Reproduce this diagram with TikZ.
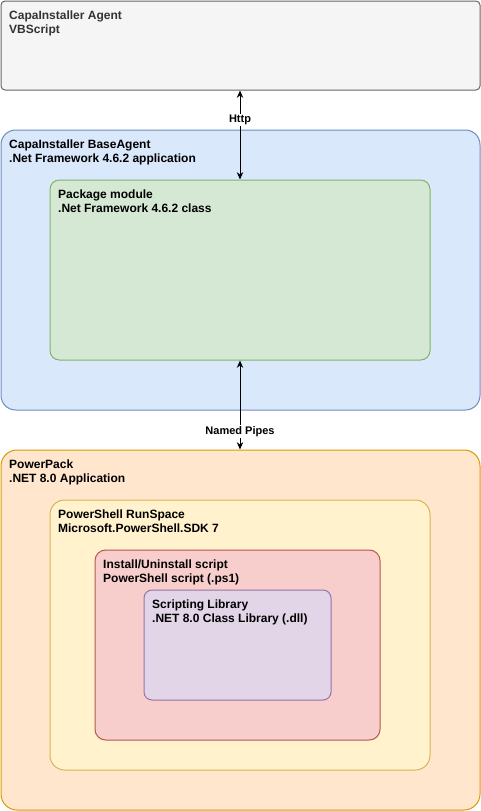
\documentclass[tikz,border=0pt]{standalone}
\usepackage{fontspec}
\setmainfont{Liberation Sans}
\usepackage{xcolor}
\usetikzlibrary{positioning, fit, arrows.meta}

\definecolor{agentfill}{HTML}{F5F5F5}
\definecolor{agentline}{HTML}{666666}
\definecolor{agenttext}{HTML}{333333}
\definecolor{basefill}{HTML}{DAE8FC}
\definecolor{baseline}{HTML}{6C8EBF}
\definecolor{pkgfill}{HTML}{D5E8D4}
\definecolor{pkgline}{HTML}{82B366}
\definecolor{packfill}{HTML}{FFE6CC}
\definecolor{packline}{HTML}{D79B00}
\definecolor{runfill}{HTML}{FFF2CC}
\definecolor{runline}{HTML}{D6B656}
\definecolor{scriptfill}{HTML}{F8CECC}
\definecolor{scriptline}{HTML}{B85450}
\definecolor{libfill}{HTML}{E1D5E7}
\definecolor{libline}{HTML}{9673A6}

\begin{document}
\begin{tikzpicture}[x=0.75pt, y=-0.75pt,
    box/.style={draw, line width=0.75pt, inner sep=0pt},
    title/.style={anchor=north west, align=left, inner xsep=6.3pt, inner ysep=7.3pt,
        font=\bfseries\fontsize{9}{10.4}\selectfont},
    link/.style={{Stealth[length=5.5pt, width=4.8pt]}-{Stealth[length=5.5pt, width=4.8pt]}, line width=0.75pt},
    linklabel/.style={fill=white, inner sep=1pt, font=\bfseries\fontsize{8.25}{10}\selectfont}]
    \useasboundingbox (0,0) rectangle (481,811);

    % boxes
    \node[box, draw=agentline, fill=agentfill, rounded corners=3pt, fit={(1,1) (480,90)}] (agent) {};
    \node[box, draw=baseline, fill=basefill, rounded corners=11pt, fit={(1,130) (480,410)}] (base) {};
    \node[box, draw=pkgline, fill=pkgfill, rounded corners=7pt, fit={(50,180) (430,360)}] (pkg) {};
    \node[box, draw=packline, fill=packfill, rounded corners=12pt, fit={(1,450) (480,810)}] (pack) {};
    \node[box, draw=runline, fill=runfill, rounded corners=11pt, fit={(50,500) (430,770)}] (run) {};
    \node[box, draw=scriptline, fill=scriptfill, rounded corners=8pt, fit={(95,550) (380,740)}] (script) {};
    \node[box, draw=libline, fill=libfill, rounded corners=6pt, fit={(144,590) (331,700)}] (lib) {};

    % titles
    \node[title, text=agenttext] (agenttitle) at (agent.north west) {CapaInstaller Agent\\VBScript};
    \node[title] (basetitle) at (base.north west) {CapaInstaller BaseAgent\\.Net Framework 4.6.2 application};
    \node[title] (pkgtitle) at (pkg.north west) {Package module\\.Net Framework 4.6.2 class};
    \node[title] (packtitle) at (pack.north west) {PowerPack\\.NET 8.0 Application};
    \node[title] (runtitle) at (run.north west) {PowerShell RunSpace\\Microsoft.PowerShell.SDK 7};
    \node[title] (scripttitle) at (script.north west) {Install/Uninstall script\\PowerShell script (.ps1)};
    \node[title] (libtitle) at (lib.north west) {Scripting Library\\.NET 8.0 Class Library (.dll)};

    % links
    \draw[link] (pkg.north |- agent.south) -- node[linklabel, pos=0.33] (http) {Http} (pkg.north);
    \draw[link] (pkg.south) -- node[linklabel, pos=0.80] (pipes) {Named Pipes} (pkg.south |- pack.north);
\end{tikzpicture}
\end{document}
